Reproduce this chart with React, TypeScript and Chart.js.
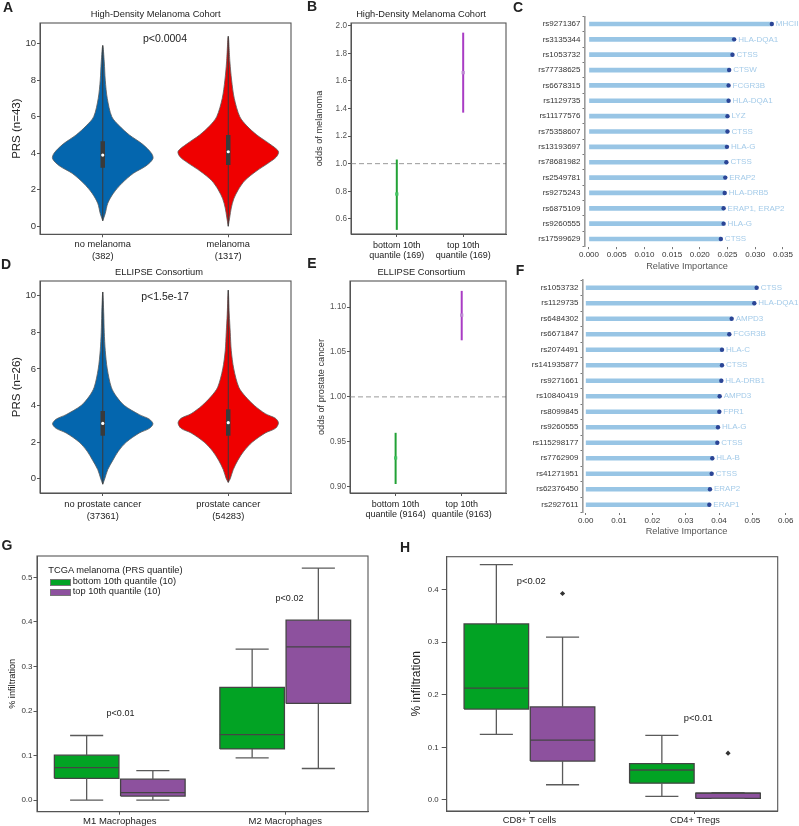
import React, { useEffect, useRef } from 'react';
import { Chart, registerables } from 'chart.js';

Chart.register(...registerables);

const FONT = '"Liberation Sans", Arial, Helvetica, sans-serif';
Chart.defaults.font.family = FONT;

// ---------------- Panel A : High-Density Melanoma Cohort (violins) ----------------
const A_CATEGORIES = [['no melanoma', '(382)'], ['melanoma', '(1317)']];
const A_NOMEL_LEVELS = [0.3, 0.7, 1.26, 1.8, 2.35, 2.9, 3.3, 3.7, 4.0, 4.5, 5.0, 5.5, 6.0, 7.0, 8.0, 9.0, 9.9];
const A_NOMEL_DENSITY = [0, 0.05, 0.10, 0.21, 0.38, 0.61, 0.86, 1.0, 0.97, 0.79, 0.53, 0.33, 0.18, 0.09, 0.05, 0.03, 0];
const A_MEL_LEVELS = [0, 0.5, 1.0, 1.5, 2.0, 2.5, 3.0, 3.5, 3.8, 4.1, 4.5, 5.0, 5.5, 6.0, 7.0, 8.0, 9.0, 10.4];
const A_MEL_DENSITY = [0, 0.03, 0.06, 0.11, 0.20, 0.33, 0.55, 0.82, 0.96, 1.0, 0.83, 0.57, 0.37, 0.23, 0.12, 0.067, 0.033, 0];
const A_Q1 = [3.2, 3.35];
const A_MEDIAN = [3.9, 4.08];
const A_Q3 = [4.65, 5.0];

// ---------------- Panel D : ELLIPSE Consortium (violins) ----------------
const D_CATEGORIES = [['no prostate cancer', '(37361)'], ['prostate cancer', '(54283)']];
const D_NOPC_LEVELS = [-0.3, 0, 0.5, 1, 1.5, 2, 2.5, 2.75, 3.0, 3.25, 3.5, 4, 4.5, 5, 6, 7, 8, 9, 10.2];
const D_NOPC_DENSITY = [0, 0.04, 0.10, 0.20, 0.31, 0.47, 0.73, 0.93, 1.0, 0.93, 0.73, 0.43, 0.27, 0.17, 0.09, 0.05, 0.03, 0.02, 0];
const D_PC_LEVELS = [-0.2, 0, 0.5, 1, 1.5, 2, 2.5, 2.75, 3.05, 3.3, 3.55, 4, 4.5, 5, 6, 7, 8, 9, 10.3];
const D_PC_DENSITY = [0, 0.04, 0.10, 0.19, 0.31, 0.48, 0.74, 0.94, 1.0, 0.94, 0.74, 0.52, 0.34, 0.21, 0.11, 0.06, 0.04, 0.02, 0];
const D_Q1 = [2.35, 2.35];
const D_MEDIAN = [3.02, 3.06];
const D_Q3 = [3.7, 3.79];

// ---------------- Panel B : odds of melanoma ----------------
const B_CATEGORIES = [['bottom 10th', 'quantile (169)'], ['top 10th', 'quantile (169)']];
const B_LOW = [0.52, 1.37];
const B_ODDS = [0.78, 1.66];
const B_HIGH = [1.03, 1.95];

// ---------------- Panel E : odds of prostate cancer ----------------
const E_CATEGORIES = [['bottom 10th', 'quantile (9164)'], ['top 10th', 'quantile (9163)']];
const E_LOW = [0.903, 1.063];
const E_ODDS = [0.932, 1.091];
const E_HIGH = [0.96, 1.118];

// ---------------- Panel C : relative importance (melanoma) ----------------
const C_SNPS = ['rs9271367', 'rs3135344', 'rs1053732', 'rs77738625', 'rs6678315', 'rs1129735', 'rs11177576', 'rs75358607', 'rs13193697', 'rs78681982', 'rs2549781', 'rs9275243', 'rs6875109', 'rs9260555', 'rs17599629'];
const C_GENES = ['MHCII', 'HLA-DQA1', 'CTSS', 'CTSW', 'FCGR3B', 'HLA-DQA1', 'LYZ', 'CTSS', 'HLA-G', 'CTSS', 'ERAP2', 'HLA-DRB5', 'ERAP1, ERAP2', 'HLA-G', 'CTSS'];
const C_IMPORTANCE = [0.0330, 0.0262, 0.0259, 0.0253, 0.0252, 0.0252, 0.0250, 0.0250, 0.0249, 0.0248, 0.0246, 0.0245, 0.0243, 0.0243, 0.0238];

// ---------------- Panel F : relative importance (prostate) ----------------
const F_SNPS = ['rs1053732', 'rs1129735', 'rs6484302', 'rs6671847', 'rs2074491', 'rs141935877', 'rs9271661', 'rs10840419', 'rs8099845', 'rs9260555', 'rs115298177', 'rs7762909', 'rs41271951', 'rs62376450', 'rs2927611'];
const F_GENES = ['CTSS', 'HLA-DQA1', 'AMPD3', 'FCGR3B', 'HLA-C', 'CTSS', 'HLA-DRB1', 'AMPD3', 'FPR1', 'HLA-G', 'CTSS', 'HLA-B', 'CTSS', 'ERAP2', 'ERAP1'];
const F_IMPORTANCE = [0.0513, 0.0506, 0.0438, 0.0431, 0.0409, 0.0409, 0.0407, 0.0402, 0.0401, 0.0397, 0.0395, 0.0380, 0.0378, 0.0373, 0.0371];

// ---------------- Panel G : macrophage infiltration ----------------
const G_CATEGORIES = ['M1 Macrophages', 'M2 Macrophages'];
const G_BOT_LO = [0.0, 0.095];
const G_BOT_Q1 = [0.049, 0.115];
const G_BOT_MED = [0.073, 0.147];
const G_BOT_Q3 = [0.101, 0.253];
const G_BOT_HI = [0.145, 0.339];
const G_TOP_LO = [0.0, 0.071];
const G_TOP_Q1 = [0.009, 0.217];
const G_TOP_MED = [0.017, 0.344];
const G_TOP_Q3 = [0.047, 0.404];
const G_TOP_HI = [0.066, 0.521];

// ---------------- Panel H : T cell infiltration ----------------
const H_CATEGORIES = ['CD8+ T cells', 'CD4+ Tregs'];
const H_BOT_LO = [0.125, 0.007];
const H_BOT_Q1 = [0.173, 0.032];
const H_BOT_MED = [0.213, 0.057];
const H_BOT_Q3 = [0.335, 0.069];
const H_BOT_HI = [0.448, 0.123];
const H_TOP_LO = [0.029, 0.003];
const H_TOP_Q1 = [0.074, 0.003];
const H_TOP_MED = [0.114, 0.013];
const H_TOP_Q3 = [0.177, 0.013];
const H_TOP_HI = [0.310, 0.014];
const H_TOP_OUTLIERS = [0.393, 0.089];

// ---------------- styling ----------------
const BLUE = '#0466ae';
const RED = '#ef0000';
const GREEN_LINE = '#22a236';
const PURPLE_LINE = '#a93cc4';
const BOX_GREEN = '#02a324';
const BOX_PURPLE = '#8d519e';
const BAR_BLUE = '#98c5e5';
const DOT_BLUE = '#2b4596';
const GENE_BLUE = '#a4cbe9';
const VIOLIN_HALF_WIDTH = 0.4;

type Rect = { l: number; t: number; w: number; h: number };
type Area = { l: number; t: number; r: number; b: number };

function fitLayout(c: Rect, a: Area) {
  return {
    padding: { left: 0, top: a.t - c.t, right: c.l + c.w - a.r, bottom: 0 },
    yWidth: a.l - c.l,
    xHeight: c.t + c.h - a.b,
  };
}

function seg(points: any[], color: string, width: number, extra: any = {}) {
  return { type: 'line', data: points, borderColor: color, borderWidth: width, pointRadius: 0, fill: false, tension: 0, borderCapStyle: 'butt', ...extra };
}

function violin(center: number, levels: number[], density: number[], color: string) {
  const pts: any[] = [];
  for (let i = 0; i < levels.length; i++) pts.push({ x: center + density[i] * VIOLIN_HALF_WIDTH, y: levels[i] });
  for (let i = levels.length - 2; i >= 0; i--) pts.push({ x: center - density[i] * VIOLIN_HALF_WIDTH, y: levels[i] });
  return { type: 'line', data: pts, fill: 'shape', backgroundColor: color, borderColor: '#5a5a5a', borderWidth: 0.8, pointRadius: 0, tension: 0.3, order: 3 };
}

function violinInner(center: number, levels: number[], q1: number, med: number, q3: number) {
  return [
    seg([{ x: center, y: levels[0] }, { x: center, y: levels[levels.length - 1] }], '#3a3a3a', 1, { order: 2 }),
    seg([{ x: center, y: q1 }, { x: center, y: q3 }], '#3a3a3a', 4.5, { order: 1 }),
    { type: 'line', data: [{ x: center, y: med }], showLine: false, pointRadius: 1.6, pointBackgroundColor: '#ffffff', pointBorderWidth: 0, order: 0 },
  ];
}

const framePlugin = {
  id: 'frame',
  afterDatasetsDraw(chart: any) {
    const { ctx, chartArea: a } = chart;
    ctx.save();
    ctx.strokeStyle = '#555';
    ctx.lineWidth = 1.1;
    ctx.strokeRect(a.left, a.top, a.right - a.left, a.bottom - a.top);
    ctx.restore();
  },
};

function geneLabelPlugin(genes: string[]) {
  return {
    id: 'geneLabels',
    afterDatasetsDraw(chart: any) {
      const meta = chart.getDatasetMeta(1);
      const ctx = chart.ctx;
      ctx.save();
      ctx.font = `8px ${FONT}`;
      ctx.fillStyle = GENE_BLUE;
      ctx.textAlign = 'left';
      ctx.textBaseline = 'middle';
      meta.data.forEach((pt: any, i: number) => ctx.fillText(genes[i], pt.x + 4, pt.y));
      ctx.restore();
    },
  };
}

function baseOptions(L: any) {
  return {
    animation: false,
    responsive: false,
    maintainAspectRatio: false,
    events: [],
    layout: { padding: L.padding },
    plugins: { legend: { display: false }, tooltip: { enabled: false } },
  };
}

function gridStyle(tickLength: number, color = '#555') {
  return { drawOnChartArea: false, drawTicks: true, tickLength, color, lineWidth: 1 };
}

function tickFont(size: number, extra: any = {}) {
  return { family: FONT, size, ...extra };
}

// ---------- violin panels (A, D) ----------
function violinConfig(rect: Rect, area: Area, p: any) {
  const L = fitLayout(rect, area);
  return {
    type: 'line',
    data: {
      datasets: [
        violin(0, p.levels0, p.dens0, BLUE),
        violin(1, p.levels1, p.dens1, RED),
        ...violinInner(0, p.levels0, p.q1[0], p.med[0], p.q3[0]),
        ...violinInner(1, p.levels1, p.q1[1], p.med[1], p.q3[1]),
      ],
    },
    options: {
      ...baseOptions(L),
      scales: {
        x: {
          type: 'linear', min: -0.5, max: 1.5,
          grid: gridStyle(3), border: { display: true, color: '#555' },
          afterBuildTicks: (s: any) => { s.ticks = [{ value: 0 }, { value: 1 }]; },
          ticks: { callback: (v: any) => p.cats[v], font: tickFont(9.3, { lineHeight: 1.3 }), color: '#222', padding: p.xPad, autoSkip: false, maxRotation: 0 },
          afterFit: (s: any) => { s.height = L.xHeight; },
        },
        y: {
          type: 'linear', min: p.yMin, max: p.yMax,
          grid: gridStyle(3), border: { display: true, color: '#555' },
          ticks: { stepSize: 2, includeBounds: false, font: tickFont(9.5), color: '#333', padding: 1 },
          title: { display: true, text: p.yTitle, font: tickFont(11.5), color: '#222', padding: 0 },
          afterFit: (s: any) => { s.width = L.yWidth; },
        },
      },
    },
    plugins: [framePlugin],
  };
}

// ---------- error-bar panels (B, E) ----------
function oddsConfig(rect: Rect, area: Area, p: any) {
  const L = fitLayout(rect, area);
  return {
    type: 'line',
    data: {
      datasets: [
        seg([{ x: p.xMin, y: 1 }, { x: p.xMax, y: 1 }], '#9a9a9a', 1, { borderDash: [5, 3], order: 3 }),
        seg([{ x: 0, y: p.low[0] }, { x: 0, y: p.high[0] }], GREEN_LINE, 2, { order: 2 }),
        seg([{ x: 1, y: p.low[1] }, { x: 1, y: p.high[1] }], PURPLE_LINE, 2, { order: 2 }),
        { type: 'line', data: [{ x: 0, y: p.odds[0] }], showLine: false, pointStyle: 'rect', pointRadius: 2.3, pointBackgroundColor: '#45c463', pointBorderWidth: 0, order: 1 },
        { type: 'line', data: [{ x: 1, y: p.odds[1] }], showLine: false, pointStyle: 'rect', pointRadius: 2.3, pointBackgroundColor: '#bd8ad2', pointBorderWidth: 0, order: 1 },
      ],
    },
    options: {
      ...baseOptions(L),
      scales: {
        x: {
          type: 'linear', min: p.xMin, max: p.xMax,
          grid: gridStyle(3), border: { display: true, color: '#555' },
          afterBuildTicks: (s: any) => { s.ticks = [{ value: 0 }, { value: 1 }]; },
          ticks: { callback: (v: any) => p.cats[v], font: tickFont(9, { lineHeight: 1.12 }), color: '#222', padding: 3, autoSkip: false, maxRotation: 0 },
          afterFit: (s: any) => { s.height = L.xHeight; },
        },
        y: {
          type: 'linear', min: p.yMin, max: p.yMax,
          grid: gridStyle(3), border: { display: true, color: '#555' },
          ticks: { stepSize: p.step, includeBounds: false, callback: (v: any) => Number(v).toFixed(p.digits), font: tickFont(8.2), color: '#555', padding: 1 },
          title: { display: true, text: p.yTitle, font: tickFont(9.2), color: '#333', padding: 0 },
          afterFit: (s: any) => { s.width = L.yWidth; },
        },
      },
    },
    plugins: [framePlugin],
  };
}

// ---------- lollipop panels (C, F) ----------
function importanceConfig(rect: Rect, area: Area, p: any) {
  const L = fitLayout(rect, area);
  return {
    type: 'bar',
    data: {
      labels: p.snps,
      datasets: [
        { type: 'bar', data: p.values, backgroundColor: BAR_BLUE, barThickness: 4, borderWidth: 0, order: 2 },
        { type: 'line', data: p.values, showLine: false, pointRadius: 2.2, pointBackgroundColor: DOT_BLUE, pointBorderWidth: 0, order: 1 },
      ],
    },
    options: {
      ...baseOptions(L),
      indexAxis: 'y',
      scales: {
        x: {
          type: 'linear', position: 'bottom', min: p.xMin, max: p.xMax,
          grid: gridStyle(2.5, '#777'), border: { display: false },
          ticks: { stepSize: p.step, includeBounds: false, callback: (v: any) => Number(v).toFixed(p.digits), font: tickFont(8), color: '#333', padding: 1 },
          title: { display: true, text: 'Relative Importance', font: tickFont(9.2), color: '#555', padding: 0 },
          afterFit: (s: any) => { s.height = L.xHeight; },
        },
        y: {
          type: 'category', offset: true,
          grid: gridStyle(2.5, '#777'), border: { display: true, color: '#9a9a9a', width: 1.6 },
          ticks: { font: tickFont(8), color: '#333', padding: 2, autoSkip: false },
          afterFit: (s: any) => { s.width = L.yWidth; },
        },
      },
    },
    plugins: [geneLabelPlugin(p.genes)],
  };
}

// ---------- box-plot panels (G, H) ----------
function boxDatasets(offset: number, lo: number[], q1: number[], med: number[], q3: number[], hi: number[], color: string) {
  const ds: any[] = [];
  const hw = 0.195;
  const cw = 0.1;
  lo.forEach((_, i) => {
    const x = i + offset;
    ds.push({
      type: 'line',
      data: [{ x: x - hw, y: q1[i] }, { x: x + hw, y: q1[i] }, { x: x + hw, y: q3[i] }, { x: x - hw, y: q3[i] }, { x: x - hw, y: q1[i] }],
      fill: 'shape', backgroundColor: color, borderColor: '#444', borderWidth: 1.3, pointRadius: 0, tension: 0, order: 3,
    });
    ds.push(seg([{ x, y: lo[i] }, { x, y: q1[i] }], '#5a5a5a', 1.3, { order: 2 }));
    ds.push(seg([{ x, y: q3[i] }, { x, y: hi[i] }], '#5a5a5a', 1.3, { order: 2 }));
    ds.push(seg([{ x: x - cw, y: lo[i] }, { x: x + cw, y: lo[i] }], '#5a5a5a', 1.3, { order: 2 }));
    ds.push(seg([{ x: x - cw, y: hi[i] }, { x: x + cw, y: hi[i] }], '#5a5a5a', 1.3, { order: 2 }));
    ds.push(seg([{ x: x - hw, y: med[i] }, { x: x + hw, y: med[i] }], '#444', 1.3, { order: 1 }));
  });
  return ds;
}

function boxConfig(rect: Rect, area: Area, p: any) {
  const L = fitLayout(rect, area);
  const datasets: any[] = [
    ...boxDatasets(-0.2, p.bot[0], p.bot[1], p.bot[2], p.bot[3], p.bot[4], BOX_GREEN),
    ...boxDatasets(0.2, p.top[0], p.top[1], p.top[2], p.top[3], p.top[4], BOX_PURPLE),
  ];
  if (p.outliers) {
    datasets.push({
      type: 'line', data: p.outliers.map((v: number, i: number) => ({ x: i + 0.2, y: v })), showLine: false,
      pointStyle: 'rectRot', pointRadius: 2.6, pointBackgroundColor: '#333', pointBorderWidth: 0, order: 0,
    });
  }
  return {
    type: 'line',
    data: { datasets },
    options: {
      ...baseOptions(L),
      scales: {
        x: {
          type: 'linear', min: -0.5, max: 1.5,
          grid: gridStyle(3), border: { display: true, color: '#555' },
          afterBuildTicks: (s: any) => { s.ticks = [{ value: 0 }, { value: 1 }]; },
          ticks: { callback: (v: any) => p.cats[v], font: tickFont(p.xFont), color: '#222', padding: 1, autoSkip: false, maxRotation: 0 },
          afterFit: (s: any) => { s.height = L.xHeight; },
        },
        y: {
          type: 'linear', min: p.yMin, max: p.yMax,
          grid: gridStyle(p.yTick), border: { display: true, color: '#555' },
          ticks: { stepSize: 0.1, includeBounds: false, callback: (v: any) => Number(v).toFixed(1), font: tickFont(p.yFont), color: '#333', padding: p.yPad },
          title: { display: true, text: '% infiltration', font: tickFont(p.titleFont), color: '#222', padding: 0 },
          afterFit: (s: any) => { s.width = L.yWidth; },
        },
      },
    },
    plugins: [framePlugin],
  };
}

// ---------- layout ----------
const RECT_A = { l: 10, t: 0, w: 285, h: 262 };
const AREA_A = { l: 40, t: 23, r: 292, b: 234.3 };
const RECT_B = { l: 314, t: 0, w: 196, h: 262 };
const AREA_B = { l: 351, t: 23, r: 507, b: 234 };
const RECT_C = { l: 528, t: 0, w: 271, h: 272 };
const AREA_C = { l: 585, t: 16.3, r: 789, b: 246.7 };
const RECT_D = { l: 10, t: 270, w: 285, h: 252 };
const AREA_D = { l: 40, t: 281, r: 292, b: 493 };
const RECT_E = { l: 316, t: 270, w: 194, h: 252 };
const AREA_E = { l: 350, t: 281, r: 507, b: 493 };
const RECT_F = { l: 525, t: 270, w: 274, h: 267 };
const AREA_F = { l: 583, t: 280, r: 790, b: 512.5 };
const RECT_G = { l: 7, t: 540, w: 371, h: 286 };
const AREA_G = { l: 37, t: 556, r: 368, b: 811.7 };
const RECT_H = { l: 409, t: 540, w: 380, h: 286 };
const AREA_H = { l: 446.7, t: 556.7, r: 777.7, b: 811 };

const PANELS: { rect: Rect; make: () => any }[] = [
  { rect: RECT_A, make: () => violinConfig(RECT_A, AREA_A, { cats: A_CATEGORIES, levels0: A_NOMEL_LEVELS, dens0: A_NOMEL_DENSITY, levels1: A_MEL_LEVELS, dens1: A_MEL_DENSITY, q1: A_Q1, med: A_MEDIAN, q3: A_Q3, yMin: -0.44, yMax: 11.13, yTitle: 'PRS (n=43)', xPad: 1 }) },
  { rect: RECT_B, make: () => oddsConfig(RECT_B, AREA_B, { cats: B_CATEGORIES, low: B_LOW, odds: B_ODDS, high: B_HIGH, xMin: -0.69, xMax: 1.645, yMin: 0.49, yMax: 2.02, step: 0.2, digits: 1, yTitle: 'odds of melanoma' }) },
  { rect: RECT_C, make: () => importanceConfig(RECT_C, AREA_C, { snps: C_SNPS, genes: C_GENES, values: C_IMPORTANCE, xMin: -0.00072, xMax: 0.0361, step: 0.005, digits: 3 }) },
  { rect: RECT_D, make: () => violinConfig(RECT_D, AREA_D, { cats: D_CATEGORIES, levels0: D_NOPC_LEVELS, dens0: D_NOPC_DENSITY, levels1: D_PC_LEVELS, dens1: D_PC_DENSITY, q1: D_Q1, med: D_MEDIAN, q3: D_Q3, yMin: -0.78, yMax: 10.8, yTitle: 'PRS (n=26)', xPad: 2 }) },
  { rect: RECT_E, make: () => oddsConfig(RECT_E, AREA_E, { cats: E_CATEGORIES, low: E_LOW, odds: E_ODDS, high: E_HIGH, xMin: -0.69, xMax: 1.67, yMin: 0.893, yMax: 1.129, step: 0.05, digits: 2, yTitle: 'odds of prostate cancer' }) },
  { rect: RECT_F, make: () => importanceConfig(RECT_F, AREA_F, { snps: F_SNPS, genes: F_GENES, values: F_IMPORTANCE, xMin: -0.0008, xMax: 0.0613, step: 0.01, digits: 2 }) },
  { rect: RECT_G, make: () => boxConfig(RECT_G, AREA_G, { cats: G_CATEGORIES, bot: [G_BOT_LO, G_BOT_Q1, G_BOT_MED, G_BOT_Q3, G_BOT_HI], top: [G_TOP_LO, G_TOP_Q1, G_TOP_MED, G_TOP_Q3, G_TOP_HI], yMin: -0.026, yMax: 0.548, xFont: 9.5, yFont: 8, yTick: 3.5, yPad: 1, titleFont: 9.2 }) },
  { rect: RECT_H, make: () => boxConfig(RECT_H, AREA_H, { cats: H_CATEGORIES, bot: [H_BOT_LO, H_BOT_Q1, H_BOT_MED, H_BOT_Q3, H_BOT_HI], top: [H_TOP_LO, H_TOP_Q1, H_TOP_MED, H_TOP_Q3, H_TOP_HI], outliers: H_TOP_OUTLIERS, yMin: -0.021, yMax: 0.463, xFont: 9.3, yFont: 7.8, yTick: 5, yPad: 3, titleFont: 12 }) },
];

type Note = { text: string; x: number; y: number; size: number; bold?: boolean; color?: string; left?: boolean };

const NOTES: Note[] = [
  { text: 'A', x: 8, y: 7, size: 14, bold: true },
  { text: 'B', x: 312, y: 6, size: 14, bold: true },
  { text: 'C', x: 518, y: 7, size: 14, bold: true },
  { text: 'D', x: 6, y: 264, size: 14, bold: true },
  { text: 'E', x: 312, y: 263, size: 14, bold: true },
  { text: 'F', x: 520, y: 270, size: 14, bold: true },
  { text: 'G', x: 7, y: 545, size: 14, bold: true },
  { text: 'H', x: 405, y: 547, size: 14, bold: true },
  { text: 'High-Density Melanoma Cohort', x: 155.7, y: 14.7, size: 9.3 },
  { text: 'High-Density Melanoma Cohort', x: 421, y: 15, size: 9.3 },
  { text: 'ELLIPSE Consortium', x: 159, y: 272.7, size: 9.3 },
  { text: 'ELLIPSE Consortium', x: 421.3, y: 273.3, size: 9.3 },
  { text: 'p<0.0004', x: 165, y: 38.3, size: 10.5 },
  { text: 'p<1.5e-17', x: 165, y: 295.7, size: 10.5 },
  { text: 'p<0.01', x: 120.5, y: 713.3, size: 9 },
  { text: 'p<0.02', x: 289.5, y: 597.7, size: 9 },
  { text: 'p<0.02', x: 531.2, y: 581, size: 9.4 },
  { text: 'p<0.01', x: 698.3, y: 717.7, size: 9.4 },
  { text: 'TCGA melanoma (PRS quantile)', x: 48.3, y: 570.7, size: 9.3, left: true },
  { text: 'bottom 10th quantile (10)', x: 72.7, y: 582.3, size: 9.3, left: true },
  { text: 'top 10th quantile (10)', x: 72.7, y: 592.3, size: 9.3, left: true },
];

const SWATCHES = [
  { x: 50, y: 578.7, w: 20.7, h: 7.3, color: BOX_GREEN },
  { x: 50, y: 588.7, w: 20.7, h: 7.3, color: BOX_PURPLE },
];

function ChartCanvas({ rect, make }: { rect: Rect; make: () => any }) {
  const ref = useRef<HTMLCanvasElement | null>(null);
  useEffect(() => {
    const chart = new Chart(ref.current as HTMLCanvasElement, make());
    return () => chart.destroy();
  }, []);
  return (
    <canvas
      ref={ref}
      width={rect.w}
      height={rect.h}
      style={{ position: 'absolute', left: rect.l, top: rect.t, width: rect.w, height: rect.h }}
    />
  );
}

export default function App() {
  return (
    <div style={{ position: 'absolute', left: 0, top: 0, width: 799, height: 826, background: '#fff', overflow: 'hidden', fontFamily: FONT }}>
      {PANELS.map((p, i) => (
        <ChartCanvas key={i} rect={p.rect} make={p.make} />
      ))}
      {SWATCHES.map((s, i) => (
        <div key={'s' + i} style={{ position: 'absolute', left: s.x, top: s.y, width: s.w, height: s.h, background: s.color, boxSizing: 'border-box', border: '1px solid #777' }} />
      ))}
      {NOTES.map((n, i) => (
        <div
          key={'n' + i}
          style={{
            position: 'absolute', left: n.x, top: n.y,
            transform: n.left ? 'translate(0,-50%)' : 'translate(-50%,-50%)',
            fontSize: n.size, lineHeight: 1, fontWeight: n.bold ? 'bold' : 'normal',
            color: n.color || '#222', whiteSpace: 'nowrap', fontFamily: FONT,
          }}
        >
          {n.text}
        </div>
      ))}
    </div>
  );
}
